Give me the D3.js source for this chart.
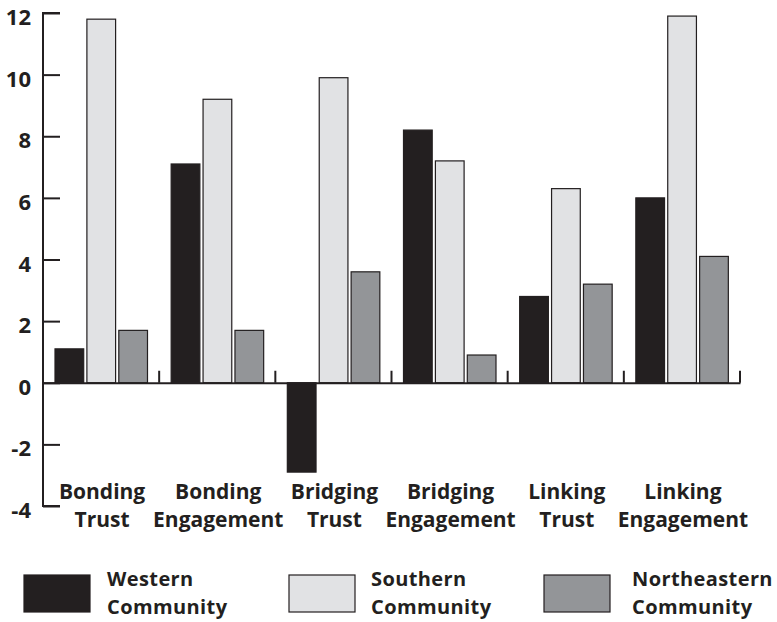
<!DOCTYPE html>
<html>
<head>
<meta charset="utf-8">
<script src="https://cdn.jsdelivr.net/npm/d3@7"></script>
<style>
  body { margin: 0; background: #fff; }
  svg text { font-family: "Open Sans", sans-serif; font-weight: 700; fill: #231f20; }
</style>
</head>
<body>
<div id="chart"></div>
<script>
// data
const categories = [['Bonding', 'Trust'], ['Bonding', 'Engagement'], ['Bridging', 'Trust'], ['Bridging', 'Engagement'], ['Linking', 'Trust'], ['Linking', 'Engagement']];
const seriesNames = [['Western', 'Community'], ['Southern', 'Community'], ['Northeastern', 'Community']];
const western = [1.1, 7.1, -2.9, 8.2, 2.8, 6.0];
const southern = [11.8, 9.2, 9.9, 7.2, 6.3, 11.9];
const northeastern = [1.7, 1.7, 3.6, 0.9, 3.2, 4.1];
const yTicks = [-4, -2, 0, 2, 4, 6, 8, 10, 12];

const colors = ['#231f20', '#e1e2e4', '#939598'];
const ink = '#231f20';

const width = 777, height = 622;
const svg = d3.select('#chart').append('svg').attr('width', width).attr('height', height);

const series = [western, southern, northeastern];
const rows = categories.map((c, i) => ({ i: i, label: c, values: series.map(s => s[i]) }));

// scales
const x0 = d3.scaleBand().domain(d3.range(categories.length)).range([43, 740]).paddingInner(0).paddingOuter(0);
const x1 = d3.scaleBand().domain(d3.range(3)).range([12, 104.5]).paddingInner(0.1);
const y = d3.scaleLinear().domain([-4, 12]).range([506, 13]);

// bars
const groups = svg.selectAll('.group')
  .data(rows)
  .enter()
  .append('g')
  .attr('class', 'group')
  .attr('transform', d => `translate(${x0(d.i)},0)`);

groups.selectAll('rect')
  .data(d => d.values.map((v, k) => ({ k: k, v: v })))
  .enter()
  .append('rect')
  .attr('x', d => x1(d.k))
  .attr('width', x1.bandwidth())
  .attr('y', d => y(Math.max(0, d.v)))
  .attr('height', d => Math.abs(y(d.v) - y(0)))
  .attr('fill', d => colors[d.k])
  .attr('stroke', ink)
  .attr('stroke-width', 1.2);

// y axis
const yAxis = d3.axisRight(y).tickValues(yTicks).tickSize(17).tickFormat('');
const gy = svg.append('g').attr('transform', 'translate(43,0)').call(yAxis);
gy.select('.domain').attr('stroke', ink).attr('stroke-width', 2).attr('d', `M17,${y(12)}H0V${y(-4)}H17`);
gy.selectAll('.tick line').attr('stroke', ink).attr('stroke-width', 2);

svg.selectAll('.ylab')
  .data(yTicks)
  .enter()
  .append('text')
  .attr('class', 'ylab')
  .attr('x', 31)
  .attr('y', d => y(d) + 12)
  .attr('text-anchor', 'end')
  .style('font-size', '22px')
  .text(d => d);

// x axis (zero line with group ticks)
const xAxis = d3.axisTop(x0).tickSize(12).tickFormat('').tickSizeOuter(0);
const gx = svg.append('g').attr('transform', `translate(0,${y(0)})`).call(xAxis);
gx.select('.domain').attr('stroke', ink).attr('stroke-width', 2);
gx.selectAll('.tick').attr('transform', d => `translate(${x0(d) + x0.bandwidth()},0)`);
gx.selectAll('.tick line').attr('stroke', ink).attr('stroke-width', 2);

// category labels
const labels = svg.selectAll('.xlab')
  .data(rows)
  .enter()
  .append('text')
  .attr('class', 'xlab')
  .attr('text-anchor', 'middle')
  .style('font-size', '21px');
labels.append('tspan').attr('x', d => x0(d.i) + x0.bandwidth() / 2 + 1).attr('y', 499).text(d => d.label[0]);
labels.append('tspan').attr('x', d => x0(d.i) + x0.bandwidth() / 2 + 1).attr('y', 527).text(d => d.label[1]);

// legend
const legendX = [24, 289, 544];
const legendTextX = [107, 371, 632];
const legend = svg.selectAll('.legend')
  .data(seriesNames)
  .enter()
  .append('g')
  .attr('class', 'legend');

legend.append('rect')
  .attr('x', (d, i) => legendX[i])
  .attr('y', 575)
  .attr('width', 66)
  .attr('height', 37)
  .attr('fill', (d, i) => colors[i])
  .attr('stroke', ink)
  .attr('stroke-width', 1.2);

const lt = legend.append('text').style('font-size', '20px').style('letter-spacing', '0.4px');
lt.append('tspan').attr('x', (d, i) => legendTextX[i]).attr('y', 586).text(d => d[0]);
lt.append('tspan').attr('x', (d, i) => legendTextX[i]).attr('y', 614).text(d => d[1]);
</script>
</body>
</html>
